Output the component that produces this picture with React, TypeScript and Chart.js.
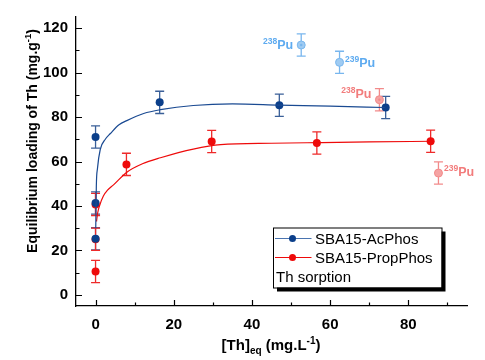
import { useEffect, useRef } from "react";
import { Chart, registerables } from "chart.js";

Chart.register(...registerables);

const FONT = '"Liberation Sans", Arial, Helvetica, sans-serif';

// ---- data ----
const acX = [0, 0, 0, 16.4, 47.0, 74.2];
const acY = [71.0, 41.3, 25.2, 86.6, 85.3, 84.3];
const acErr = [5, 5, 5, 5, 5, 5];

const propX = [0, 0, 0, 7.9, 29.7, 56.6, 85.7];
const propY = [40.7, 25.0, 10.5, 58.7, 69.0, 68.3, 69.1];
const propErr = [5, 5, 5, 5, 5, 5, 5];

const acFitX = [0.05, 0.2, 0.5, 1.2, 2.5, 3.8, 6, 8, 12.3, 16.6, 25, 35, 47, 60, 74];
const acFitY = [30, 49, 57, 65.4, 70, 72.6, 76.5, 78.4, 81.6, 83.3, 85.2, 85.9, 85.4, 84.9, 84.3];

const propFitX = [0.25, 0.5, 1, 2, 3, 4.6, 8, 12, 16.6, 25, 32, 45, 57, 70, 86];
const propFitY = [33, 36.5, 40, 44.5, 47, 49.5, 55.2, 59, 61.7, 65.6, 67.6, 68.2, 68.5, 68.8, 69.1];

const puAcX = [52.6, 62.4];
const puAcY = [112.4, 104.6];
const puAcErr = [5, 5];
const puAcIso = ["238", "239"];

const puPropX = [72.6, 87.7];
const puPropY = [87.8, 54.8];
const puPropErr = [5, 5];
const puPropIso = ["238", "239"];

const xTicks = [0, 20, 40, 60, 80];
const xMinor = [10, 30, 50, 70, 90];
const yTicks = [0, 20, 40, 60, 80, 100, 120];
const yMinor = [10, 30, 50, 70, 90, 110];

const legendLabels = ["SBA15-AcPhos", "SBA15-PropPhos"];
const legendNote = "Th sorption";

// ---- styles ----
const BLUE = "#0b3f8a";
const BLUE_BAR = "#3a5f98";
const BLUE_LINE = "#1a4a92";
const RED = "#ee0a0a";
const RED_BAR = "#ee2a2a";
const LBLUE = "#9fcbf2";
const LBLUE_BAR = "#78b6ee";
const LBLUE_TXT = "#5eabf0";
const LRED = "#f5a3a3";
const LRED_BAR = "#f28a8a";
const LRED_TXT = "#f27c7c";

type Piece = { t: string; size: number; dy?: number; bold?: boolean };

function drawRich(
  ctx: CanvasRenderingContext2D,
  pieces: Piece[],
  x: number,
  y: number,
  align: "left" | "center" | "right",
  color: string
) {
  ctx.fillStyle = color;
  ctx.textBaseline = "alphabetic";
  ctx.textAlign = "left";
  let total = 0;
  const widths = pieces.map((p) => {
    ctx.font = `${p.bold === false ? "" : "bold "}${p.size}px ${FONT}`;
    const w = ctx.measureText(p.t).width;
    total += w;
    return w;
  });
  let cx = align === "left" ? x : align === "center" ? x - total / 2 : x - total;
  pieces.forEach((p, i) => {
    ctx.font = `${p.bold === false ? "" : "bold "}${p.size}px ${FONT}`;
    ctx.fillText(p.t, cx, y + (p.dy || 0));
    cx += widths[i];
  });
  return total;
}

function pts(xs: number[], ys: number[]) {
  return xs.map((x, i) => ({ x, y: ys[i] }));
}

const decorPlugin = {
  id: "decor",
  beforeDatasetsDraw(chart: any) {
    const ctx: CanvasRenderingContext2D = chart.ctx;
    const xs = chart.scales.x;
    const ys = chart.scales.y;
    const bars = (X: number[], Y: number[], E: number[], color: string) => {
      ctx.save();
      ctx.strokeStyle = color;
      ctx.lineWidth = 1.3;
      X.forEach((xv, i) => {
        const px = xs.getPixelForValue(xv);
        const top = ys.getPixelForValue(Y[i] + E[i]);
        const bot = ys.getPixelForValue(Y[i] - E[i]);
        ctx.beginPath();
        ctx.moveTo(px, top);
        ctx.lineTo(px, bot);
        ctx.moveTo(px - 4.5, top);
        ctx.lineTo(px + 4.5, top);
        ctx.moveTo(px - 4.5, bot);
        ctx.lineTo(px + 4.5, bot);
        ctx.stroke();
      });
      ctx.restore();
    };
    bars(acX, acY, acErr, BLUE_BAR);
    bars(propX, propY, propErr, RED_BAR);
    bars(puAcX, puAcY, puAcErr, LBLUE_BAR);
    bars(puPropX, puPropY, puPropErr, LRED_BAR);
  },
  afterDraw(chart: any) {
    const ctx: CanvasRenderingContext2D = chart.ctx;
    const xs = chart.scales.x;
    const ys = chart.scales.y;
    const area = chart.chartArea;

    // inward ticks
    ctx.save();
    ctx.strokeStyle = "#000";
    ctx.lineWidth = 1.2;
    ctx.beginPath();
    yTicks.forEach((v) => {
      const p = Math.round(ys.getPixelForValue(v)) + 0.5;
      ctx.moveTo(area.left, p);
      ctx.lineTo(area.left + 6, p);
    });
    yMinor.forEach((v) => {
      const p = Math.round(ys.getPixelForValue(v)) + 0.5;
      ctx.moveTo(area.left, p);
      ctx.lineTo(area.left + 3.5, p);
    });
    xTicks.forEach((v) => {
      const p = Math.round(xs.getPixelForValue(v)) + 0.5;
      ctx.moveTo(p, area.bottom);
      ctx.lineTo(p, area.bottom - 6);
    });
    xMinor.forEach((v) => {
      const p = Math.round(xs.getPixelForValue(v)) + 0.5;
      ctx.moveTo(p, area.bottom);
      ctx.lineTo(p, area.bottom - 3.5);
    });
    ctx.stroke();
    ctx.restore();

    // centre dot on 238Pu markers
    const dot = (xv: number, yv: number, color: string) => {
      ctx.save();
      ctx.fillStyle = color;
      ctx.beginPath();
      ctx.arc(xs.getPixelForValue(xv), ys.getPixelForValue(yv), 1.2, 0, Math.PI * 2);
      ctx.fill();
      ctx.restore();
    };
    puAcIso.forEach((iso, i) => {
      if (iso === "238") dot(puAcX[i], puAcY[i], LBLUE_BAR);
    });
    puPropIso.forEach((iso, i) => {
      if (iso === "238") dot(puPropX[i], puPropY[i], LRED_BAR);
    });

    // Pu labels
    const puLabel = (xv: number, yv: number, iso: string, color: string, side: "left" | "right", dy: number) => {
      const px = xs.getPixelForValue(xv);
      const py = ys.getPixelForValue(yv);
      const pieces: Piece[] = [
        { t: iso, size: 8.5, dy: -5 },
        { t: "Pu", size: 12.5 },
      ];
      if (side === "left") drawRich(ctx, pieces, px - 8, py + dy, "right", color);
      else drawRich(ctx, pieces, px + 5.5, py + dy, "left", color);
    };
    puLabel(puAcX[0], puAcY[0], puAcIso[0], LBLUE_TXT, "left", 3.5);
    puLabel(puAcX[1], puAcY[1], puAcIso[1], LBLUE_TXT, "right", 4.3);
    puLabel(puPropX[0], puPropY[0], puPropIso[0], LRED_TXT, "left", -1.7);
    puLabel(puPropX[1], puPropY[1], puPropIso[1], LRED_TXT, "right", 2.5);

    // axis titles
    ctx.save();
    ctx.translate(36.5, 141);
    ctx.rotate(-Math.PI / 2);
    drawRich(
      ctx,
      [
        { t: "Equilibrium loading of Th (mg.g", size: 14 },
        { t: "-1", size: 9.5, dy: -6 },
        { t: ")", size: 14 },
      ],
      0,
      0,
      "center",
      "#000"
    );
    ctx.restore();

    drawRich(
      ctx,
      [
        { t: "[Th]", size: 15 },
        { t: "eq", size: 10, dy: 4 },
        { t: " (mg.L", size: 15 },
        { t: "-1", size: 10, dy: -6 },
        { t: ")", size: 15 },
      ],
      271,
      350,
      "center",
      "#000"
    );

    // legend box
    const bx = 273,
      by = 227.5,
      bw = 168.5,
      bh = 60;
    ctx.save();
    ctx.fillStyle = "#000";
    ctx.fillRect(bx + 4, by + 4, bw, bh);
    ctx.fillStyle = "#fff";
    ctx.fillRect(bx, by, bw, bh);
    ctx.strokeStyle = "#000";
    ctx.lineWidth = 1;
    ctx.strokeRect(bx + 0.5, by + 0.5, bw, bh);

    const rows = [238.5, 257.5];
    const lineCols = ["#4a74b0", RED];
    const dotCols = [BLUE, RED];
    rows.forEach((ry, i) => {
      ctx.strokeStyle = lineCols[i];
      ctx.lineWidth = 1.2;
      ctx.beginPath();
      ctx.moveTo(275, ry);
      ctx.lineTo(311.5, ry);
      ctx.stroke();
      ctx.fillStyle = dotCols[i];
      ctx.beginPath();
      ctx.arc(292.5, ry, 3.5, 0, Math.PI * 2);
      ctx.fill();
      ctx.fillStyle = "#000";
      ctx.font = `15px ${FONT}`;
      ctx.textAlign = "left";
      ctx.textBaseline = "alphabetic";
      ctx.fillText(legendLabels[i], 315, ry + 5.5);
    });
    ctx.fillStyle = "#000";
    ctx.font = `15px ${FONT}`;
    ctx.fillText(legendNote, 276, 281.5);
    ctx.restore();
  },
};

export default function App() {
  const ref = useRef<HTMLCanvasElement>(null);

  useEffect(() => {
    document.body.style.margin = "0";
    if (!ref.current) return;
    const tickFont = { family: FONT, size: 15, weight: "bold" as const };
    const chart = new Chart(ref.current, {
      type: "scatter",
      data: {
        datasets: [
          {
            label: "acFit",
            data: pts(acFitX, acFitY),
            showLine: true,
            pointRadius: 0,
            borderColor: BLUE_LINE,
            borderWidth: 1.2,
            cubicInterpolationMode: "monotone",
          } as any,
          {
            label: "propFit",
            data: pts(propFitX, propFitY),
            showLine: true,
            pointRadius: 0,
            borderColor: RED,
            borderWidth: 1.2,
            cubicInterpolationMode: "monotone",
          } as any,
          {
            label: legendLabels[0],
            data: pts(acX, acY),
            pointRadius: 4,
            backgroundColor: BLUE,
            borderColor: BLUE,
            borderWidth: 0,
          },
          {
            label: legendLabels[1],
            data: pts(propX, propY),
            pointRadius: 4,
            backgroundColor: RED,
            borderColor: RED,
            borderWidth: 0,
          },
          {
            label: "Pu Ac",
            data: pts(puAcX, puAcY),
            pointRadius: 4,
            backgroundColor: LBLUE,
            borderColor: LBLUE_BAR,
            borderWidth: 1,
          },
          {
            label: "Pu Prop",
            data: pts(puPropX, puPropY),
            pointRadius: 4,
            backgroundColor: LRED,
            borderColor: LRED_BAR,
            borderWidth: 1,
          },
        ],
      },
      options: {
        animation: false,
        responsive: true,
        maintainAspectRatio: false,
        layout: { padding: { top: 6, right: 18, left: 0, bottom: 0 } },
        plugins: { legend: { display: false }, tooltip: { enabled: false } },
        scales: {
          x: {
            type: "linear",
            min: -5,
            max: 95,
            afterBuildTicks: (s: any) => {
              s.ticks = xTicks.map((v) => ({ value: v }));
            },
            afterFit: (s: any) => {
              s.height = 54;
            },
            grid: { display: false, drawTicks: false, tickLength: 0 },
            border: { display: true, color: "#000", width: 1.3 },
            ticks: { font: tickFont, color: "#000", padding: 10, maxRotation: 0 },
          },
          y: {
            type: "linear",
            min: -5,
            max: 125,
            afterBuildTicks: (s: any) => {
              s.ticks = yTicks.map((v) => ({ value: v }));
            },
            afterFit: (s: any) => {
              s.width = 76;
            },
            grid: { display: false, drawTicks: false, tickLength: 0 },
            border: { display: true, color: "#000", width: 1.3 },
            ticks: { font: tickFont, color: "#000", padding: 8 },
          },
        },
      },
      plugins: [decorPlugin],
    });
    return () => chart.destroy();
  }, []);

  return (
    <div style={{ width: 485, height: 360, position: "relative" }}>
      <canvas ref={ref} />
    </div>
  );
}
